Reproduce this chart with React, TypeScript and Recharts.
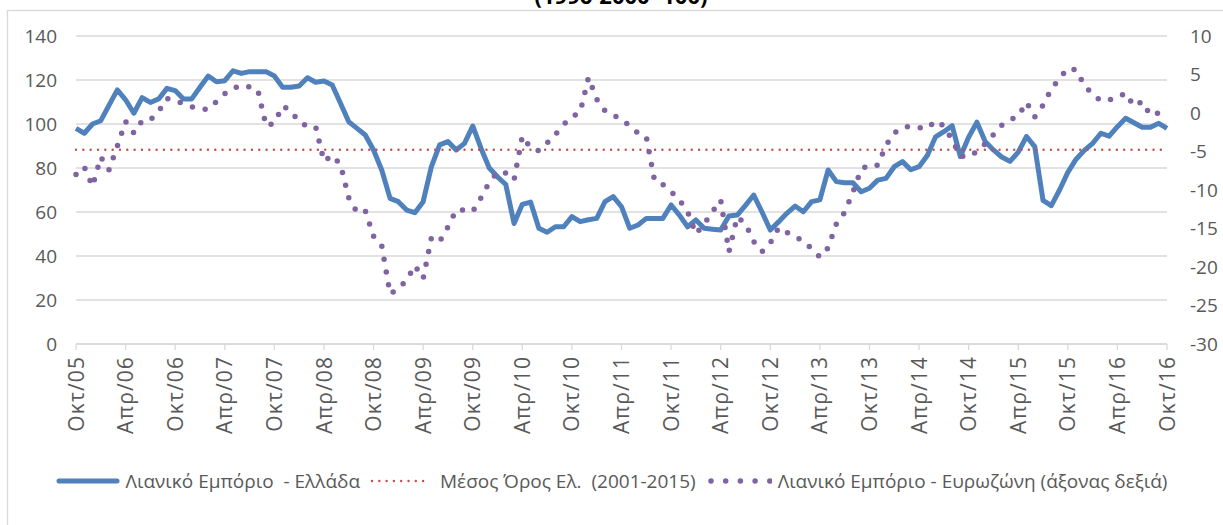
import { LineChart, Line, XAxis, YAxis, CartesianGrid, ReferenceLine, Legend } from "recharts";

const MONTH_NAMES = ["Ιαν", "Φεβ", "Μαρ", "Απρ", "Μαϊ", "Ιουν", "Ιουλ", "Αυγ", "Σεπ", "Οκτ", "Νοε", "Δεκ"];
const START_YEAR = 2005;
const START_MONTH = 9; // Oct 2005

// Λιανικό Εμπόριο - Ελλάδα (left axis), Oct 2005 .. Oct 2016
const greeceRetail = [
  98, 95.8, 100, 101.5, 108.6, 115.5, 111, 104.9, 112, 109.8, 111.4, 116.2,
  115.2, 111.4, 111.4, 116.7, 121.8, 119.2, 119.7, 124.2, 123, 123.8, 123.8, 123.8,
  121.8, 116.7, 116.7, 117.3, 121, 119, 119.5, 117.7, 109.4, 101, 98, 95,
  88.2, 79, 66.2, 64.7, 60.9, 59.7, 64.7, 80.6, 90.5, 92, 88.2, 91.2,
  99.1, 89, 80, 76, 72.5, 54.8, 63.5, 64.5, 52.6, 50.8, 53.3, 53.3,
  57.9, 55.6, 56.5, 57.1, 64.7, 67, 62.4, 52.6, 54.1, 57.1, 57.1, 57.1,
  63.2, 58.6, 53.3, 56.4, 52.6, 52.2, 51.8, 58.2, 58.6, 63, 67.7, 60,
  51.8, 55.5, 59.4, 62.7, 60.1, 64.7, 65.5, 79.1, 73.8, 73.3, 73.3, 69.2,
  70.8, 74.5, 75.3, 80.6, 82.9, 79.2, 80.6, 85.7, 94.2, 96.5, 99.2, 85.2,
  94, 100.8, 92, 88.2, 85, 83, 87.2, 94.3, 89.7, 65.3, 62.9, 70,
  78, 84, 88, 91.2, 95.8, 94.5, 98.8, 102.6, 100.6, 98.5, 98.5, 100.3,
  98,
];

// Λιανικό Εμπόριο - Ευρωζώνη (right axis)
const eurozoneRetail = [
  -8, -7, -9.5, -5.7, -7.4, -4.3, -1.1, -2.6, -1, -0.9, 0.2, 1.9,
  1.6, 1.2, 0.8, 0.5, 0.5, 1.5, 2.5, 3.2, 3.6, 3.4, 3, -1.7,
  -1.3, 0.9, 0.3, -1.2, -1.7, -1.8, -6.3, -5.5, -6.7, -11, -12.9, -12.7,
  -16, -17.3, -23.5, -22.8, -21.7, -19.8, -21.5, -16.2, -16.7, -14.8, -12.6, -12.6,
  -12.8, -11, -9, -7.7, -7.8, -8.7, -3, -4.5, -4.9, -3.9, -2.8, -1.5,
  -0.5, 0.1, 4.6, 1.8, 0.3, -0.3, -0.8, -1.7, -2.6, -3.1, -8.8, -9.3,
  -10.2, -11.3, -12.8, -15.7, -14.4, -12.8, -11.3, -18, -13.5, -14.4, -16.7, -18,
  -16.9, -14.9, -15.5, -16, -16.7, -17.6, -18.7, -17.5, -14.4, -12.9, -10.3, -7.3,
  -6.7, -6.8, -4.2, -2.6, -1.9, -1.7, -1.9, -2, -1, -1.7, -3.5, -5.6,
  -5.7, -5, -4, -2.8, -1.6, -0.9, -0.4, 1.4, -0.5, 1, 3.1, 4.5,
  5.8, 5.6, 3.6, 2.4, 1.6, 1.7, 2, 2.6, 0.9, 1.5, -0.3, 0,
  -0.5,
];

const GREECE_AVG_2001_2015 = 88.3;

const LEFT_TICKS = [0, 20, 40, 60, 80, 100, 120, 140];
const RIGHT_TICKS = [-30, -25, -20, -15, -10, -5, 0, 5, 10];

const TITLE = "(1996-2000=100)";
const NAME_GREECE = "Λιανικό Εμπόριο  - Ελλάδα";
const NAME_AVG = "Μέσος Όρος Ελ.  (2001-2015)";
const NAME_EURO = "Λιανικό Εμπόριο - Ευρωζώνη (άξονας δεξιά)";

const BLUE = "#4F81BD";
const RED = "#C0504D";
const PURPLE = "#8064A2";
const GRID = "#d9d9d9";
const TEXT = "#595959";

const monthLabels = greeceRetail.map((_, i) => {
  const m = START_MONTH + i;
  const yy = (START_YEAR + Math.floor(m / 12)) % 100;
  return `${MONTH_NAMES[m % 12]}/${String(yy).padStart(2, "0")}`;
});

const chartData = monthLabels.map((label, i) => ({
  label,
  greece: greeceRetail[i],
  euro: eurozoneRetail[i],
}));

function MonthTick({ x, y, payload }: any) {
  return (
    <text
      x={x}
      y={y}
      transform={`rotate(-90 ${x} ${y})`}
      textAnchor="end"
      dy="0.36em"
      fill={TEXT}
      fontSize={21}
      letterSpacing={1.1}
    >
      {payload.value}
    </text>
  );
}

function LegendContent() {
  return (
    <div
      style={{
        display: "flex",
        alignItems: "center",
        justifyContent: "center",
        fontSize: 19,
        color: TEXT,
        whiteSpace: "pre",
      }}
    >
      <svg width={64} height={12} style={{ marginRight: 6 }}>
        <line x1={3} x2={61} y1={6} y2={6} stroke={BLUE} strokeWidth={5} strokeLinecap="round" />
      </svg>
      <span>{NAME_GREECE}</span>
      <svg width={62} height={12} style={{ marginLeft: 10, marginRight: 8 }}>
        <line x1={2} x2={60} y1={6} y2={6} stroke={RED} strokeWidth={2.4} strokeDasharray="0 7.3" strokeLinecap="round" />
      </svg>
      <span>{NAME_AVG}</span>
      <svg width={64} height={12} style={{ marginLeft: 12, marginRight: 6 }}>
        <line x1={3} x2={62} y1={6} y2={6} stroke={PURPLE} strokeWidth={5.5} strokeDasharray="0 14.7" strokeLinecap="round" />
      </svg>
      <span>{NAME_EURO}</span>
    </div>
  );
}

export default function App() {
  return (
    <div
      style={{
        position: "relative",
        width: 1223,
        height: 525,
        overflow: "hidden",
        background: "#fff",
        fontFamily: "'Open Sans', sans-serif",
      }}
    >
      <style>{`body { margin: 0; }`}</style>
      <svg width={1223} height={525} style={{ position: "absolute", left: 0, top: 0 }}>
        <rect x={7.5} y={10.5} width={1240} height={540} fill="none" stroke={GRID} strokeWidth={1.3} />
        <text x={621} y={4} textAnchor="middle" fontSize={22} fontWeight="bold" fill="#000">
          {TITLE}
        </text>
      </svg>
      <div style={{ position: "absolute", left: 0, top: 0 }}>
        <LineChart
          width={1223}
          height={525}
          data={chartData}
          margin={{ top: 36, right: 10, bottom: 0, left: 16 }}
        >
          <CartesianGrid yAxisId="left" vertical={false} stroke={GRID} strokeWidth={1.3} />
          <XAxis
            dataKey="label"
            interval={5}
            height={181}
            tick={<MonthTick />}
            tickSize={6}
            tickMargin={6}
            tickLine={{ stroke: GRID, strokeWidth: 1.3 }}
            axisLine={{ stroke: GRID, strokeWidth: 1.3 }}
          />
          <YAxis
            yAxisId="left"
            domain={[0, 140]}
            ticks={LEFT_TICKS}
            width={60}
            axisLine={false}
            tickLine={false}
            tickSize={0}
            tickMargin={19}
            tick={{ fill: TEXT, fontSize: 19 }}
          />
          <YAxis
            yAxisId="right"
            orientation="right"
            domain={[-30, 10]}
            ticks={RIGHT_TICKS}
            width={46}
            axisLine={false}
            tickLine={false}
            tickSize={0}
            tickMargin={23}
            tick={{ fill: TEXT, fontSize: 19, textAnchor: "start" }}
          />
          <Line
            yAxisId="left"
            type="linear"
            dataKey="greece"
            stroke={BLUE}
            strokeWidth={5}
            strokeLinejoin="round"
            dot={false}
            isAnimationActive={false}
          />
          <ReferenceLine
            yAxisId="left"
            y={GREECE_AVG_2001_2015}
            stroke={RED}
            strokeWidth={2.4}
            strokeDasharray="0 7.33"
            strokeLinecap="round"
          />
          <Line
            yAxisId="right"
            type="linear"
            dataKey="euro"
            stroke={PURPLE}
            strokeWidth={5.5}
            strokeDasharray="0 13"
            strokeLinecap="round"
            dot={false}
            isAnimationActive={false}
          />
          <Legend
            layout="horizontal"
            verticalAlign="middle"
            align="center"
            wrapperStyle={{ top: 468, left: 0, width: 1223 }}
            content={<LegendContent />}
          />
        </LineChart>
      </div>
    </div>
  );
}
